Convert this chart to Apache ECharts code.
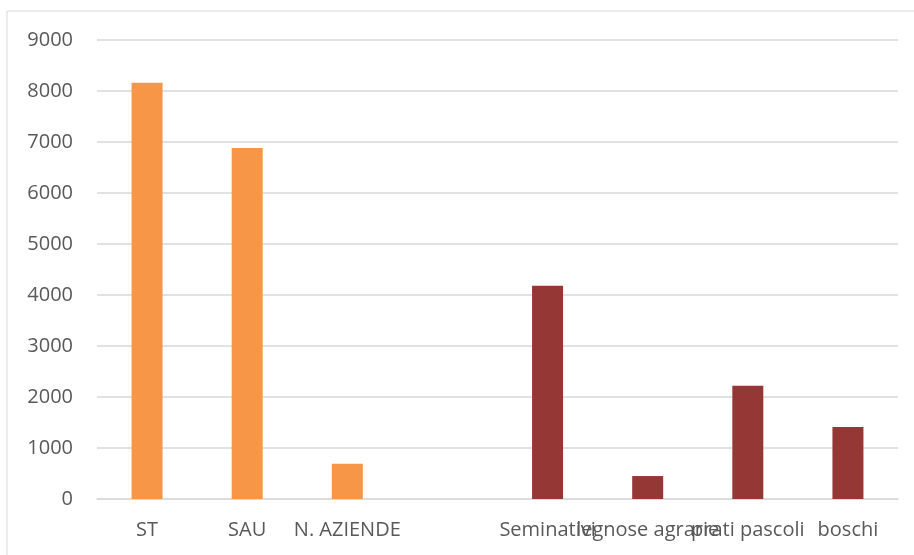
<!DOCTYPE html>
<html>
<head>
<meta charset="utf-8">
<script src="https://cdn.jsdelivr.net/npm/echarts@6/dist/echarts.min.js"></script>
<style>
  html, body { margin: 0; padding: 0; background: #fff; }
  #chart { width: 914px; height: 555px; }
</style>
</head>
<body>
<div id="chart"></div>
<script>
// categorie (la quinta è vuota, fa da spazio tra i due gruppi)
var categories = ['ST', 'SAU', 'N. AZIENDE', '', 'Seminativi', 'legnose agrarie', 'prati pascoli', 'boschi'];
// primo gruppo (arancio)
var totali = [8160, 6880, 690, '-', '-', '-', '-', '-'];
// secondo gruppo (rosso scuro)
var colture = ['-', '-', '-', '-', 4180, 450, 2220, 1410];
var yTicks = [0, 1000, 2000, 3000, 4000, 5000, 6000, 7000, 8000, 9000];

var myChart = echarts.init(document.getElementById('chart'));
var option = {
    backgroundColor: '#ffffff',
    animation: false,
    textStyle: { fontFamily: 'Open Sans' },
    // cornice del grafico
    graphic: [{
        type: 'rect',
        shape: { x: 7, y: 11, width: 930, height: 580 },
        style: { fill: 'none', stroke: '#d9d9d9', lineWidth: 1 },
        silent: true
    }],
    grid: {
        left: 97,
        right: 16,
        top: 40,
        bottom: 56,
        containLabel: false
    },
    xAxis: {
        type: 'category',
        data: categories,
        axisTick: { show: false },
        axisLine: { show: true, lineStyle: { color: '#d9d9d9', width: 1.5 } },
        axisLabel: {
            interval: 0,
            margin: 21,
            color: '#595959',
            fontSize: 20,
            fontFamily: 'Open Sans'
        }
    },
    yAxis: {
        type: 'value',
        min: yTicks[0],
        max: yTicks[yTicks.length - 1],
        interval: 1000,
        axisLine: { show: false },
        axisTick: { show: false },
        splitLine: { lineStyle: { color: '#d9d9d9', width: 1.5 } },
        axisLabel: {
            margin: 24,
            color: '#595959',
            fontSize: 20,
            fontFamily: 'Open Sans',
            formatter: function (v) { return String(v); }
        }
    },
    series: [{
        name: 'totali',
        type: 'bar',
        stack: 'tot',
        barWidth: 31,
        itemStyle: { color: '#f79646' },
        data: totali
    }, {
        name: 'colture',
        type: 'bar',
        stack: 'tot',
        barWidth: 31,
        itemStyle: { color: '#953735' },
        data: colture
    }]
};
myChart.setOption(option);
</script>
</body>
</html>
